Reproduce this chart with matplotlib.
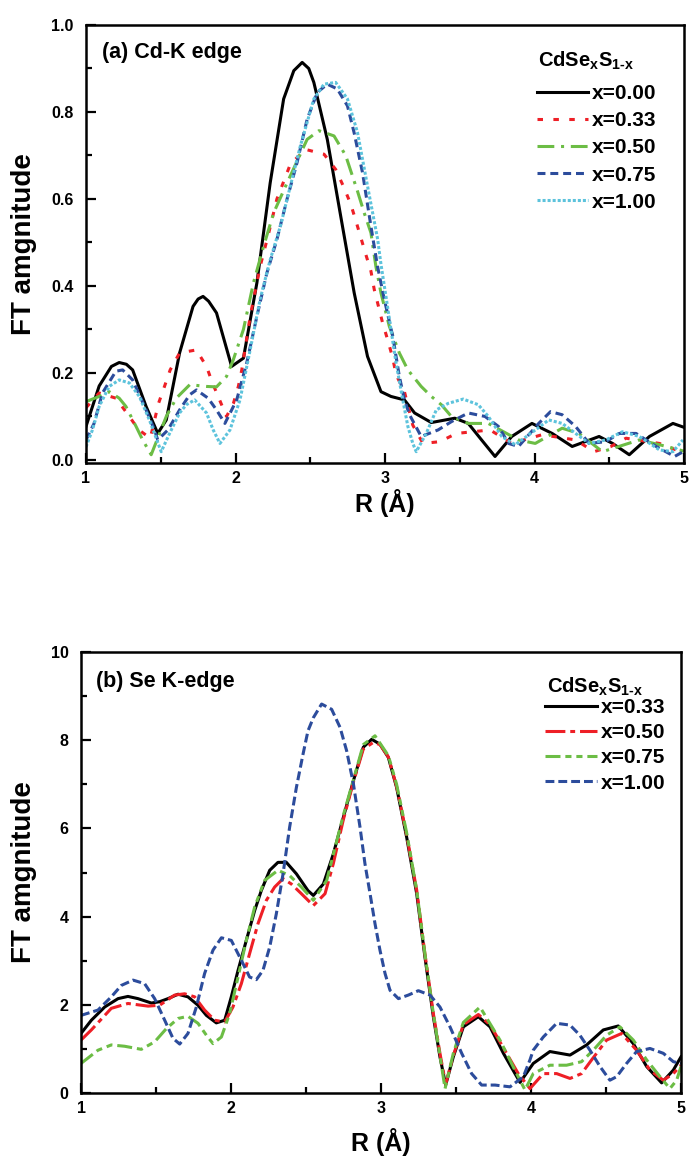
import matplotlib
matplotlib.use("Agg")
import matplotlib.pyplot as plt

plt.rcParams['font.family'] = ['Liberation Sans', 'DejaVu Sans']
plt.rcParams['font.weight'] = 'bold'
plt.rcParams['mathtext.fontset'] = 'custom'
plt.rcParams['mathtext.rm'] = 'Liberation Sans:bold'
plt.rcParams['mathtext.it'] = 'Liberation Sans:bold'
plt.rcParams['mathtext.bf'] = 'Liberation Sans:bold'
plt.rcParams['mathtext.default'] = 'rm'
plt.rcParams['axes.linewidth'] = 1.8

# ---- (a) Cd K-edge ----
r_a_000 = [1.0, 1.088, 1.17, 1.222, 1.27, 1.312, 1.402, 1.48, 1.537, 1.626, 1.716, 1.75, 1.783, 1.82,
           1.873, 1.974, 2.053, 2.143, 2.232, 2.322, 2.39, 2.446, 2.49, 2.524, 2.614, 2.704, 2.794,
           2.883, 2.973, 3.04, 3.13, 3.198, 3.31, 3.467, 3.557, 3.646, 3.736, 3.848, 3.983, 4.118,
           4.252, 4.432, 4.522, 4.634, 4.769, 4.926, 5.0]
a_000 = [0.077, 0.17, 0.215, 0.224, 0.22, 0.207, 0.123, 0.061, 0.092, 0.246, 0.353, 0.37, 0.376,
         0.365, 0.338, 0.215, 0.234, 0.407, 0.637, 0.83, 0.895, 0.914, 0.90, 0.868, 0.737, 0.56,
         0.384, 0.238, 0.157, 0.146, 0.138, 0.108, 0.086, 0.096, 0.084, 0.046, 0.008, 0.054, 0.084,
         0.061, 0.031, 0.054, 0.038, 0.012, 0.054, 0.084, 0.075]

r_a_033 = [1.0, 1.088, 1.2, 1.29, 1.35, 1.43, 1.485, 1.525, 1.563, 1.626, 1.738, 1.806, 1.846, 1.94,
           1.986, 2.019, 2.042, 2.098, 2.165, 2.221, 2.277, 2.367, 2.468, 2.592, 2.67, 2.726, 2.771,
           2.805, 2.872, 2.906, 2.928, 2.984, 3.018, 3.052, 3.074, 3.13, 3.186, 3.254, 3.366, 3.478,
           3.703, 3.848, 4.05, 4.275, 4.398, 4.511, 4.612, 4.836, 4.97, 5.0]
a_033 = [0.12, 0.154, 0.142, 0.10, 0.07, 0.05, 0.13, 0.169, 0.207, 0.246, 0.253, 0.215, 0.177, 0.10,
         0.13, 0.169, 0.207, 0.33, 0.445, 0.52, 0.60, 0.68, 0.714, 0.703, 0.668, 0.626, 0.588,
         0.55, 0.472, 0.434, 0.392, 0.315, 0.276, 0.234, 0.196, 0.157, 0.08, 0.038, 0.042, 0.061,
         0.069, 0.038, 0.058, 0.046, 0.019, 0.031, 0.05, 0.038, 0.02, 0.02]

r_a_050 = [1.0, 1.088, 1.155, 1.222, 1.267, 1.335, 1.379, 1.436, 1.537, 1.604, 1.694, 1.806, 1.873,
           1.94, 1.985, 2.053, 2.12, 2.187, 2.255, 2.345, 2.479, 2.558, 2.659, 2.737, 2.782, 2.816,
           2.861, 2.906, 2.939, 2.973, 3.029, 3.096, 3.153, 3.242, 3.31, 3.377, 3.444, 3.557, 3.691,
           3.893, 4.005, 4.185, 4.297, 4.455, 4.701, 4.836, 4.971, 5.0]
a_050 = [0.134, 0.146, 0.157, 0.142, 0.123, 0.077, 0.046, 0.012, 0.10, 0.142, 0.173, 0.169, 0.168,
         0.192, 0.23, 0.30, 0.407, 0.49, 0.568, 0.637, 0.737, 0.757, 0.745, 0.70, 0.653, 0.618,
         0.568, 0.522, 0.445, 0.384, 0.307, 0.246, 0.207, 0.169, 0.146, 0.127, 0.10, 0.084, 0.084,
         0.046, 0.038, 0.073, 0.061, 0.019, 0.046, 0.035, 0.023, 0.02]

r_a_075 = [1.0, 1.054, 1.11, 1.2, 1.245, 1.312, 1.402, 1.458, 1.48, 1.548, 1.626, 1.694, 1.739, 1.817,
           1.873, 1.929, 2.008, 2.075, 2.143, 2.21, 2.277, 2.345, 2.412, 2.479, 2.547, 2.614, 2.681,
           2.749, 2.793, 2.85, 2.906, 2.95, 2.995, 3.052, 3.096, 3.13, 3.164, 3.242, 3.355, 3.444,
           3.557, 3.669, 3.759, 3.826, 3.893, 4.028, 4.107, 4.185, 4.275, 4.365, 4.477, 4.567, 4.679,
           4.814, 4.937, 5.0]
a_075 = [0.046, 0.084, 0.154, 0.204, 0.207, 0.184, 0.115, 0.069, 0.046, 0.069, 0.115, 0.15, 0.161,
         0.142, 0.115, 0.084, 0.138, 0.223, 0.33, 0.43, 0.507, 0.60, 0.684, 0.783, 0.845, 0.864,
         0.853, 0.814, 0.753, 0.66, 0.537, 0.445, 0.37, 0.284, 0.192, 0.138, 0.104, 0.054, 0.069,
         0.088, 0.108, 0.10, 0.077, 0.038, 0.031, 0.084, 0.111, 0.104, 0.077, 0.038, 0.042, 0.061,
         0.061, 0.031, 0.008, 0.02]

r_a_100 = [1.0, 1.043, 1.088, 1.155, 1.222, 1.29, 1.357, 1.424, 1.503, 1.559, 1.626, 1.671, 1.727,
           1.806, 1.851, 1.896, 1.963, 2.03, 2.098, 2.165, 2.232, 2.3, 2.367, 2.434, 2.524, 2.592,
           2.67, 2.749, 2.816, 2.883, 2.951, 2.973, 3.018, 3.074, 3.119, 3.153, 3.186, 3.209, 3.276,
           3.343, 3.422, 3.523, 3.624, 3.691, 3.781, 3.871, 4.006, 4.095, 4.185, 4.275, 4.365, 4.477,
           4.589, 4.701, 4.836, 4.926, 4.993]
a_100 = [0.03, 0.069, 0.123, 0.169, 0.184, 0.177, 0.146, 0.092, 0.019, 0.061, 0.108, 0.127, 0.138,
         0.108, 0.069, 0.038, 0.069, 0.138, 0.253, 0.37, 0.46, 0.537, 0.63, 0.722, 0.83, 0.864,
         0.868, 0.83, 0.753, 0.63, 0.507, 0.45, 0.35, 0.223, 0.138, 0.077, 0.038, 0.019, 0.061,
         0.115, 0.13, 0.14, 0.127, 0.10, 0.054, 0.035, 0.069, 0.092, 0.084, 0.061, 0.038, 0.046,
         0.065, 0.054, 0.023, 0.019, 0.046]

# ---- (b) Se K-edge ----
r_b_033 = [1.0, 1.069, 1.158, 1.247, 1.313, 1.38, 1.469, 1.524, 1.58, 1.647, 1.713, 1.78, 1.836,
           1.902, 1.958, 2.002, 2.047, 2.102, 2.158, 2.202, 2.258, 2.313, 2.369, 2.436, 2.513, 2.549,
           2.616, 2.682, 2.749, 2.816, 2.882, 2.938, 2.993, 3.049, 3.104, 3.171, 3.238, 3.293, 3.349,
           3.393, 3.431, 3.482, 3.549, 3.649, 3.727, 3.816, 3.927, 4.015, 4.126, 4.26, 4.371, 4.482,
           4.582, 4.682, 4.771, 4.871, 4.949, 5.0]
b_033 = [1.35, 1.65, 1.95, 2.14, 2.19, 2.14, 2.04, 2.07, 2.14, 2.24, 2.18, 1.99, 1.76, 1.59, 1.65,
         2.18, 2.78, 3.46, 4.14, 4.59, 5.05, 5.23, 5.23, 4.97, 4.59, 4.48, 4.74, 5.42, 6.25, 7.08,
         7.84, 8.02, 7.91, 7.61, 6.93, 5.80, 4.52, 3.08, 1.73, 0.82, 0.18, 0.82, 1.50, 1.73, 1.50,
         0.90, 0.24, 0.67, 0.94, 0.86, 1.09, 1.43, 1.52, 1.12, 0.60, 0.23, 0.52, 0.82]

r_b_050 = [1.0, 1.069, 1.202, 1.313, 1.447, 1.524, 1.624, 1.691, 1.758, 1.824, 1.891, 1.958, 2.013,
           2.069, 2.124, 2.18, 2.236, 2.291, 2.347, 2.402, 2.469, 2.549, 2.627, 2.682, 2.749, 2.816,
           2.882, 2.949, 2.993, 3.049, 3.104, 3.171, 3.238, 3.293, 3.349, 3.393, 3.431, 3.482, 3.549,
           3.649, 3.727, 3.837, 3.915, 3.993, 4.082, 4.171, 4.26, 4.337, 4.404, 4.504, 4.604, 4.704,
           4.793, 4.882, 4.949, 5.0]
b_050 = [1.2, 1.43, 1.92, 2.03, 1.97, 1.99, 2.22, 2.25, 2.18, 1.88, 1.65, 1.61, 1.95, 2.48, 3.16,
         3.84, 4.37, 4.67, 4.86, 4.74, 4.52, 4.25, 4.52, 5.2, 6.2, 7.05, 7.8, 7.95, 7.9, 7.62, 6.95,
         5.85, 4.6, 3.15, 1.8, 0.9, 0.2, 0.85, 1.55, 1.78, 1.55, 0.9, 0.44, 0.1, 0.44, 0.44, 0.33,
         0.44, 0.75, 1.2, 1.35, 0.97, 0.52, 0.29, 0.44, 0.63]

r_b_075 = [1.0, 1.113, 1.202, 1.291, 1.402, 1.491, 1.569, 1.647, 1.713, 1.78, 1.836, 1.88, 1.936,
           1.991, 2.047, 2.102, 2.158, 2.224, 2.313, 2.391, 2.469, 2.549, 2.638, 2.749, 2.816, 2.882,
           2.96, 3.049, 3.104, 3.171, 3.238, 3.293, 3.349, 3.393, 3.427, 3.482, 3.549, 3.66, 3.793,
           3.904, 3.96, 4.015, 4.126, 4.237, 4.337, 4.415, 4.504, 4.593, 4.682, 4.771, 4.86, 4.926,
           4.971, 5.0]
b_075 = [0.67, 0.97, 1.09, 1.06, 0.99, 1.16, 1.46, 1.69, 1.74, 1.58, 1.31, 1.12, 1.27, 1.80, 2.63,
         3.46, 4.22, 4.82, 5.05, 4.93, 4.67, 4.37, 4.82, 6.3, 7.1, 7.9, 8.10, 7.65, 7.0, 5.9, 4.6,
         3.15, 1.8, 0.85, 0.1, 0.9, 1.6, 1.95, 1.2, 0.44, 0.07, 0.44, 0.63, 0.63, 0.71, 0.97, 1.31,
         1.50, 1.2, 0.75, 0.37, 0.1, 0.29, 0.6]

r_b_100 = [1.0, 1.113, 1.202, 1.269, 1.347, 1.424, 1.491, 1.558, 1.613, 1.658, 1.713, 1.769, 1.824,
           1.88, 1.936, 2.002, 2.069, 2.124, 2.169, 2.213, 2.258, 2.302, 2.347, 2.391, 2.436, 2.48,
           2.513, 2.549, 2.604, 2.671, 2.727, 2.771, 2.816, 2.86, 2.893, 2.927, 2.96, 2.993, 3.027,
           3.06, 3.116, 3.182, 3.249, 3.327, 3.393, 3.46, 3.538, 3.604, 3.671, 3.76, 3.86, 3.949,
           3.993, 4.015, 4.082, 4.171, 4.26, 4.326, 4.393, 4.46, 4.526, 4.571, 4.637, 4.704, 4.793,
           4.882, 4.949, 5.0]
b_100 = [1.76, 1.88, 2.18, 2.44, 2.56, 2.48, 2.14, 1.65, 1.24, 1.11, 1.35, 1.95, 2.71, 3.24, 3.52,
         3.46, 3.01, 2.63, 2.57, 2.78, 3.31, 4.06, 4.97, 6.03, 6.93, 7.68, 8.21, 8.51, 8.82, 8.70,
         8.29, 7.76, 7.01, 6.03, 5.20, 4.52, 3.84, 3.24, 2.71, 2.33, 2.14, 2.22, 2.32, 2.22, 1.95,
         1.50, 0.90, 0.44, 0.18, 0.18, 0.14, 0.37, 0.75, 0.97, 1.27, 1.58, 1.54, 1.31, 0.97, 0.6,
         0.29, 0.37, 0.67, 0.94, 1.01, 0.9, 0.71, 0.67]

labels_a = ['x=0.00', 'x=0.33', 'x=0.50', 'x=0.75', 'x=1.00']
labels_b = ['x=0.33', 'x=0.50', 'x=0.75', 'x=1.00']

black = 'black'
red = '#ee1f26'
green = '#6cbd45'
blue = '#2c4c9c'
cyan = '#5dc3dc'
lw = 2.2

fig = plt.figure(figsize=(6.89, 11.57), dpi=100)
ax1 = fig.add_axes([86 / 689, 1 - 463 / 1157, 598 / 689, 438 / 1157])
ax2 = fig.add_axes([81 / 689, 1 - 1093 / 1157, 600 / 689, 441 / 1157])

ax1.plot(r_a_000, a_000, color=black, lw=lw, label=labels_a[0])
ax1.plot(r_a_033, a_033, color=red, lw=lw, ls=(0, (1.8, 3.4)), label=labels_a[1])
ax1.plot(r_a_050, a_050, color=green, lw=lw, ls=(0, (5.5, 2.2, 1, 2.2)), label=labels_a[2])
ax1.plot(r_a_075, a_075, color=blue, lw=lw, ls=(0, (2.6, 1.6)), label=labels_a[3])
ax1.plot(r_a_100, a_100, color=cyan, lw=lw, ls=(0, (1, 0.65)), label=labels_a[4])

ax2.plot(r_b_033, b_033, color=black, lw=lw, label=labels_b[0])
ax2.plot(r_b_050, b_050, color=red, lw=lw, ls=(0, (6.5, 1.6, 1.6, 1.6)), label=labels_b[1])
ax2.plot(r_b_075, b_075, color=green, lw=lw, ls=(0, (4.9, 1.6, 2, 1.6, 2, 1.6)), label=labels_b[2])
ax2.plot(r_b_100, b_100, color=blue, lw=lw, ls=(0, (2.9, 1.3)), label=labels_b[3])

ax1.set_xlim(1, 5)
ax1.set_ylim(-0.007, 1.0)
ax1.set_yticks([0.0, 0.2, 0.4, 0.6, 0.8, 1.0])
ax1.set_yticks([0.1, 0.3, 0.5, 0.7, 0.9], minor=True)
ax1.set_yticklabels(['0.0', '0.2', '0.4', '0.6', '0.8', '1.0'])

ax2.set_xlim(1, 5)
ax2.set_ylim(0, 10)
ax2.set_yticks([0, 2, 4, 6, 8, 10])
ax2.set_yticks([1, 3, 5, 7, 9], minor=True)

for ax in (ax1, ax2):
    ax.set_xticks([1, 2, 3, 4, 5])
    ax.set_xticks([1.5, 2.5, 3.5, 4.5], minor=True)
    ax.tick_params(which='major', direction='in', length=7, width=1.6, labelsize=11.5)
    ax.tick_params(which='minor', direction='in', length=4.5, width=1.6)
    ax.tick_params(axis='y', pad=9)
    ax.tick_params(axis='x', pad=6)
    ax.set_ylabel('FT amgnitude', fontsize=20, fontweight='bold')
    ax.set_xlabel('R (Å)', fontsize=18, fontweight='bold')

ax1.yaxis.set_label_coords(-0.082, 0.5)
ax2.yaxis.set_label_coords(-0.073, 0.5)
ax1.xaxis.set_label_coords(0.5, -0.060)
ax2.xaxis.set_label_coords(0.5, -0.080)

ax1.text(0.027, 0.938, '(a) Cd-K edge', transform=ax1.transAxes, fontsize=15.5,
         fontweight='bold', va='center', ha='left')
ax2.text(0.025, 0.932, '(b) Se K-edge', transform=ax2.transAxes, fontsize=15.5,
         fontweight='bold', va='center', ha='left')

# legend titles as plain text, legends below them
title = 'CdSe$_{x}$S$_{1\u2010x}$'
ax1.text(0.756, 0.904, title, transform=ax1.transAxes, fontsize=14.5, fontweight='bold',
         ha='left', va='baseline')
ax2.text(0.777, 0.907, title, transform=ax2.transAxes, fontsize=14.5, fontweight='bold',
         ha='left', va='baseline')

ax1.legend(loc='upper left', bbox_to_anchor=(0.754, 0.865), frameon=False, fontsize=15,
           handlelength=2.45, handletextpad=0.2, labelspacing=0.39,
           borderpad=0, borderaxespad=0)
ax2.legend(loc='upper left', bbox_to_anchor=(0.773, 0.896), frameon=False, fontsize=15,
           handlelength=2.5, handletextpad=0.2, labelspacing=0.3,
           borderpad=0, borderaxespad=0)

fig.savefig('out.png', dpi=100)
